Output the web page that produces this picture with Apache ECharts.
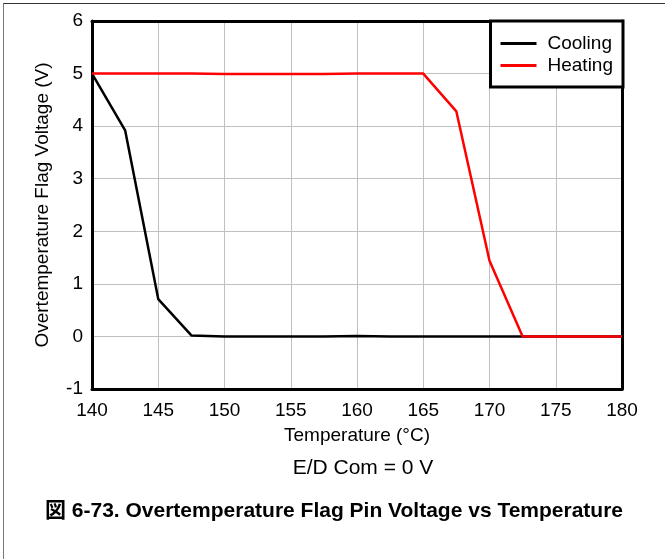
<!DOCTYPE html>
<html>
<head>
<meta charset="utf-8">
<script src="https://cdn.jsdelivr.net/npm/echarts@6/dist/echarts.min.js"></script>
<style>
html,body{margin:0;padding:0;background:#fff;}
#frame{position:absolute;left:3px;top:3px;width:662px;height:556px;border-left:1px solid #777;border-top:1px solid #333;}
#main{position:absolute;left:0;top:0;width:665px;height:559px;}
</style>
</head>
<body>
<div id="frame"></div>
<div id="main"></div>
<script>
const temps = [140, 142.5, 145, 147.5, 150, 152.5, 155, 157.5, 160, 162.5, 165, 167.5, 170, 172.5, 175, 177.5, 180];
const cooling = [5.0, 3.92, 0.71, 0.02, 0.0, 0.0, 0.0, 0.0, 0.01, 0.0, 0.0, 0.0, 0.0, 0.0, 0.0, 0.0, 0.0];
const heating = [5.0, 5.0, 5.0, 5.0, 4.99, 4.99, 4.99, 4.99, 5.0, 5.0, 5.0, 4.28, 1.44, 0.0, 0.0, 0.0, 0.0];
const xTicks = [140, 145, 150, 155, 160, 165, 170, 175, 180];
const yTicks = [-1, 0, 1, 2, 3, 4, 5, 6];

const font = 'Liberation Sans, Arial, sans-serif';
const fs = 19;
const border = {show: true, onZero: false, lineStyle: {color: '#000', width: 3}};
const chart = echarts.init(document.getElementById('main'), null, {renderer: 'canvas'});
chart.setOption({
  animation: false,
  grid: {left: 92, right: 43, top: 21, bottom: 170},
  legend: {
    orient: 'vertical', right: 42, top: 21,
    data: ['Cooling', 'Heating'],
    icon: 'rect', itemWidth: 36, itemHeight: 3, itemGap: 3,
    padding: [13, 10, 12, 10],
    borderColor: '#000', borderWidth: 3, backgroundColor: '#fff',
    textStyle: {fontFamily: font, fontSize: fs, lineHeight: 19, color: '#000', padding: [0, 0, 0, 6]}
  },
  xAxis: [{
    type: 'value', min: xTicks[0], max: xTicks[xTicks.length - 1], interval: 5,
    name: 'Temperature (°C)', nameLocation: 'middle', nameGap: 37,
    nameTextStyle: {fontFamily: font, fontSize: fs, color: '#000'},
    axisLine: border, axisTick: {show: false},
    axisLabel: {fontFamily: font, fontSize: fs, color: '#000', margin: 12},
    splitLine: {show: true, lineStyle: {color: '#c0c0c0', width: 1}}
  }, {
    type: 'value', position: 'top', min: xTicks[0], max: xTicks[xTicks.length - 1], interval: 5,
    axisLine: border, axisTick: {show: false}, axisLabel: {show: false}, splitLine: {show: false}
  }],
  yAxis: [{
    type: 'value', min: yTicks[0], max: yTicks[yTicks.length - 1], interval: 1,
    name: 'Overtemperature Flag Voltage (V)', nameLocation: 'middle', nameGap: 40,
    nameTextStyle: {fontFamily: font, fontSize: fs, color: '#000'},
    axisLine: border, axisTick: {show: false},
    axisLabel: {fontFamily: font, fontSize: fs, color: '#000', margin: 9},
    splitLine: {show: true, lineStyle: {color: '#c0c0c0', width: 1}}
  }, {
    type: 'value', position: 'right', min: yTicks[0], max: yTicks[yTicks.length - 1], interval: 1,
    axisLine: border, axisTick: {show: false}, axisLabel: {show: false}, splitLine: {show: false}
  }],
  series: [
    {name: 'Cooling', type: 'line', xAxisIndex: 0, yAxisIndex: 0, data: temps.map((t, i) => [t, cooling[i]]), showSymbol: false, symbol: 'none',
     lineStyle: {color: '#000', width: 2.5}, itemStyle: {color: '#000'}, z: 2},
    {name: 'Heating', type: 'line', xAxisIndex: 0, yAxisIndex: 0, data: temps.map((t, i) => [t, heating[i]]), showSymbol: false, symbol: 'none',
     lineStyle: {color: '#ff0000', width: 2.5}, itemStyle: {color: '#ff0000'}, z: 3}
  ],
  graphic: [
    {type: 'text', x: 363, y: 468, style: {text: 'E/D Com = 0 V', fontFamily: font, fontSize: 21, fill: '#000', align: 'center', verticalAlign: 'middle'}},
    {type: 'text', x: 334, y: 511, style: {text: '図 6-73. Overtemperature Flag Pin Voltage vs Temperature', fontFamily: 'Liberation Sans, Arial, Noto Sans CJK JP, sans-serif', fontSize: 21, fontWeight: 'bold', fill: '#000', align: 'center', verticalAlign: 'middle'}}
  ]
});
</script>
</body>
</html>
